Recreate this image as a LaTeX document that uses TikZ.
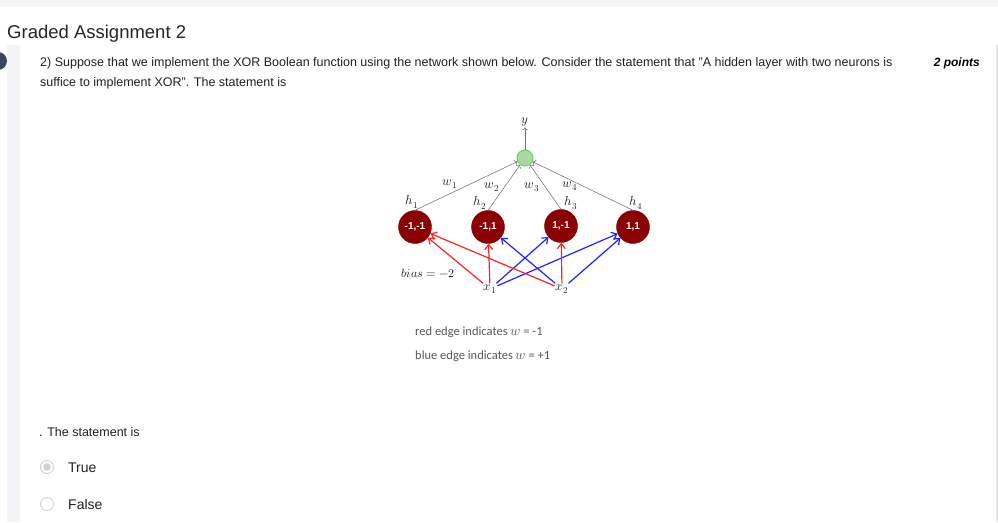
\documentclass[tikz,border=0pt]{standalone}
\usepackage{fontspec}
\usepackage{unicode-math}
\setmainfont{Liberation Sans}
\setmathfont{Latin Modern Math}
\newfontfamily\legendfont{Carlito}
\usetikzlibrary{arrows.meta}

\definecolor{hidred}{HTML}{8B0000}
\definecolor{outfill}{HTML}{AED6A4}
\definecolor{outline}{HTML}{55E055}
\definecolor{negred}{HTML}{FF2222}
\definecolor{posblue}{HTML}{2222FF}
\definecolor{slate}{HTML}{3C4560}
\definecolor{strip}{HTML}{F4F4F8}

\tikzset{
  qtext/.style={inner sep=0pt, text=black!87, font=\fontsize{12.5}{14}\selectfont},
  hidden/.style={circle, fill=hidred, draw=hidred!85!black, minimum size=33pt,
    inner sep=0pt, text=white, font=\fontsize{10}{10}\selectfont\bfseries},
  outnode/.style={circle, fill=outfill, draw=outline, line width=1pt, minimum size=16pt, inner sep=0pt},
  lab/.style={inner sep=1pt, text=black!88, font=\fontsize{13}{13}\selectfont},
  wire/.style={->, gray!90!black, line width=0.55pt},
  negedge/.style={-{Straight Barb[length=5pt,width=8pt]}, negred, line width=1.2pt},
  posedge/.style={-{Straight Barb[length=5pt,width=8pt]}, posblue, line width=1.2pt},
  legend/.style={inner sep=0pt, text=black!65, font=\legendfont\fontsize{12.5}{14}\selectfont},
  radio/.style={draw=gray!40, line width=0.8pt, fill=white}
}
\newcommand{\legw}{{\fontsize{14}{14}\selectfont$w$}}

\begin{document}
\begin{tikzpicture}[x=1pt, y=-1pt]
\useasboundingbox (0,0) rectangle (998,522);
\fill[white] (0,0) rectangle (998,522);
\fill[gray!8] (0,0) rectangle (998,7);
\fill[strip] (7,45) rectangle (20,522);
\fill[slate] (-2,61) circle (9);
\draw[gray!20, line width=1.5pt] (997,45) -- (997,522);

% header and question
\node[anchor=base west, inner sep=0pt, text=black!85, font=\fontsize{18.5}{20}\selectfont] (title) at (7,38) {Graded Assignment 2};
\node[anchor=base west, qtext] (q1) at (40,66) {2) Suppose that we implement the XOR Boolean function using the network shown below. Consider the statement that "A hidden layer with two neurons is};
\node[anchor=base west, qtext] (q2) at (40,86) {suffice to implement XOR". The statement is};
\node[anchor=base east, inner sep=0pt, font=\fontsize{12}{14}\selectfont\bfseries\itshape] (pts) at (980,66) {2 points};

% network
\node[outnode] (out) at (525,158) {};
\node[lab] (y) at (525,122) {$y$};
\node[hidden] (h1) at (415,227) {-1,-1};
\node[hidden] (h2) at (488,227) {-1,1};
\node[hidden] (h3) at (561,226) {1,-1};
\node[hidden] (h4) at (633,227) {1,1};
\node[lab] (x1) at (490,289) {$x_1$};
\node[lab] (x2) at (562,289) {$x_2$};

\draw (412,202) node[lab] {$h_1$};
\draw (480,203) node[lab] {$h_2$};
\draw (571,203) node[lab] {$h_3$};
\draw (636,203) node[lab] {$h_4$};
\draw (450,184) node[lab] {$w_1$};
\draw (492,187) node[lab] {$w_2$};
\draw (532,187) node[lab] {$w_3$};
\draw (570,186) node[lab] {$w_4$};
\draw (428,273) node[lab, font=\fontsize{12}{12}\selectfont] {$bias=-2$};

\draw[wire] (out) -- (y);
\foreach \h in {h1,h2,h3,h4}
    \draw[wire] (\h.north) -- (out);

\draw[negedge] (x1) -- (h1);
\draw[negedge] (x1) -- (h2);
\draw[posedge] (x1) -- (h3);
\draw[posedge] (x1) -- (h4);
\draw[negedge] (x2) -- (h1);
\draw[posedge] (x2) -- (h2);
\draw[negedge] (x2) -- (h3);
\draw[posedge] (x2) -- (h4);

% legend
\node[anchor=base west, legend] (leg1) at (415,335) {red edge indicates \legw{} = -1};
\node[anchor=base west, legend] (leg2) at (415,359) {blue edge indicates \legw{} = +1};

% answers
\node[anchor=base west, qtext] (stmt) at (39,436) {. The statement is};
\draw[radio] (47,467) circle (6.5);
\fill[gray!35] (47,467) circle (3.8);
\node[anchor=base west, qtext, font=\fontsize{14}{16}\selectfont] (true) at (68,472) {True};
\draw[radio] (47,504) circle (6.5);
\node[anchor=base west, qtext, font=\fontsize{14}{16}\selectfont] (false) at (68,509) {False};
\end{tikzpicture}
\end{document}
